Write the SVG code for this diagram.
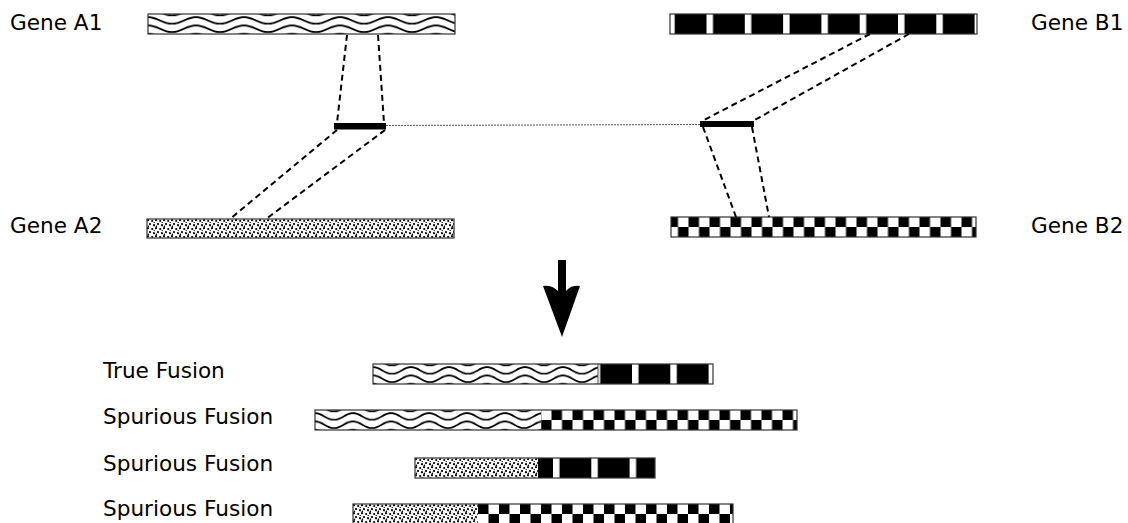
<svg xmlns="http://www.w3.org/2000/svg" width="1128" height="523" viewBox="0 0 1128 523">
  <style>
    .label { font-family: "DejaVu Sans", "Liberation Sans", sans-serif; font-size: 21.6px; fill: #000; }
    .frame { fill: none; stroke: #333; stroke-width: 1.2; }
    .dash { fill: none; stroke: #000; stroke-width: 2; stroke-dasharray: 6 4; }
    .link { fill: none; stroke: #555; stroke-width: 1; stroke-dasharray: 2 1; }
    .seg { fill: #000; }
  </style>
  <defs>
    <!-- wavy fill, wide period (source gene) -->
    <pattern id="waveWide" patternUnits="userSpaceOnUse" x="0" y="2.2" width="48" height="8.3">
      <rect width="48" height="8.3" fill="#fff"/>
      <path d="M0 1 C9.6 1 14.4 7.7 24 7.7 C33.6 7.7 38.4 1 48 1" fill="none" stroke="#000" stroke-width="1.8"/>
    </pattern>
    <!-- wavy fill, narrow period (fusion part) -->
    <pattern id="waveNarrow" patternUnits="userSpaceOnUse" x="0" y="2.2" width="38" height="8.3">
      <rect width="38" height="8.3" fill="#fff"/>
      <path d="M0 1 C7.6 1 11.4 7.7 19 7.7 C26.6 7.7 30.4 1 38 1" fill="none" stroke="#000" stroke-width="1.8"/>
    </pattern>
    <!-- black with white bands -->
    <pattern id="stripes" patternUnits="userSpaceOnUse" width="38.3" height="40">
      <rect width="38.3" height="40" fill="#000"/>
      <rect width="6.5" height="40" fill="#fff"/>
    </pattern>
    <!-- two-row checkerboard -->
    <pattern id="checker" patternUnits="userSpaceOnUse" width="21" height="20">
      <rect width="21" height="20" fill="#fff"/>
      <rect x="0" y="0" width="10.5" height="10" fill="#000"/>
      <rect x="10.5" y="10" width="10.5" height="10" fill="#000"/>
    </pattern>
    <!-- fine stipple -->
    <pattern id="stipple" patternUnits="userSpaceOnUse" width="8" height="8">
      <rect width="8" height="8" fill="#fff"/>
      <g fill="#000">
        <circle cx="1" cy="1.2" r="1.1"/>
        <circle cx="5.2" cy="2" r="1.1"/>
        <circle cx="3" cy="5.1" r="1.1"/>
        <circle cx="7" cy="6.2" r="1.1"/>
        <circle cx="1.4" cy="7.4" r="0.8"/>
        <circle cx="7.2" cy="3.6" r="0.7"/>
      </g>
    </pattern>
  </defs>

  <!-- source genes -->
  <g id="geneA1">
    <g transform="translate(148,14)">
      <rect width="307" height="20" fill="url(#waveWide)"/>
    </g>
    <rect class="frame" x="148" y="14" width="307" height="20"/>
    <text class="label" x="10" y="30">Gene A1</text>
  </g>

  <g id="geneB1">
    <g transform="translate(706.5,14)">
      <rect x="-36.5" width="307" height="20" fill="url(#stripes)"/>
    </g>
    <rect class="frame" x="670" y="14" width="307" height="20"/>
    <text class="label" x="1031" y="30">Gene B1</text>
  </g>

  <g id="geneA2">
    <g transform="translate(147,219)">
      <rect width="307" height="19" fill="url(#stipple)"/>
    </g>
    <rect class="frame" x="147" y="219" width="307" height="19"/>
    <text class="label" x="10" y="233">Gene A2</text>
  </g>

  <g id="geneB2">
    <g transform="translate(667.5,217)">
      <rect x="3.5" width="305" height="20" fill="url(#checker)"/>
    </g>
    <rect class="frame" x="671" y="217" width="305" height="20"/>
    <text class="label" x="1031" y="233">Gene B2</text>
  </g>

  <!-- shared segments -->
  <g id="segmentA">
    <rect class="seg" x="334" y="123" width="52" height="6.5"/>
  </g>
  <g id="segmentB">
    <rect class="seg" x="700" y="121" width="54" height="6"/>
  </g>

  <g id="connectors">
    <line class="link" x1="386" y1="125.5" x2="700" y2="124.5"/>
    <line class="dash" x1="347" y1="35" x2="337" y2="123"/>
    <line class="dash" x1="378" y1="35" x2="384" y2="123"/>
    <line class="dash" x1="337" y1="130" x2="230" y2="219"/>
    <line class="dash" x1="385" y1="130" x2="266" y2="219"/>
    <line class="dash" x1="870" y1="34" x2="702" y2="121"/>
    <line class="dash" x1="909" y1="34" x2="753" y2="121"/>
    <line class="dash" x1="703" y1="127" x2="736" y2="217"/>
    <line class="dash" x1="752" y1="127" x2="769" y2="217"/>
  </g>

  <!-- downward arrow -->
  <g id="arrow">
    <path d="M558 260 H566 V291 Q571 285 580 286 L562 337 L543 286 Q552 285 558 291 Z" fill="#000"/>
  </g>

  <!-- fusion products -->
  <g id="trueFusion">
    <g transform="translate(373,364)">
      <rect width="225" height="20" fill="url(#waveNarrow)"/>
    </g>
    <g transform="translate(632,364)">
      <rect x="-34" width="115" height="20" fill="url(#stripes)"/>
    </g>
    <line x1="598" y1="364" x2="598" y2="384" stroke="#555" stroke-width="1"/>
    <rect class="frame" x="373" y="364" width="340" height="20"/>
    <text class="label" x="103" y="378">True Fusion</text>
  </g>

  <g id="spuriousFusion1">
    <g transform="translate(315,410)">
      <rect width="226" height="20" fill="url(#waveNarrow)"/>
    </g>
    <g transform="translate(530.5,410)">
      <rect x="10.5" width="256" height="20" fill="url(#checker)"/>
    </g>
    <rect class="frame" x="315" y="410" width="482" height="20"/>
    <text class="label" x="103" y="424">Spurious Fusion</text>
  </g>

  <g id="spuriousFusion2">
    <g transform="translate(415,458)">
      <rect width="123" height="20" fill="url(#stipple)"/>
    </g>
    <g transform="translate(553,458)">
      <rect x="-15" width="117" height="20" fill="url(#stripes)"/>
    </g>
    <rect class="frame" x="415" y="458" width="240" height="20"/>
    <text class="label" x="103" y="471">Spurious Fusion</text>
  </g>

  <g id="spuriousFusion3">
    <g transform="translate(353,504)">
      <rect width="125" height="20" fill="url(#stipple)"/>
    </g>
    <g transform="translate(478,504)">
      <rect width="255" height="20" fill="url(#checker)"/>
    </g>
    <rect class="frame" x="353" y="504" width="380" height="20"/>
    <text class="label" x="103" y="516">Spurious Fusion</text>
  </g>
</svg>
